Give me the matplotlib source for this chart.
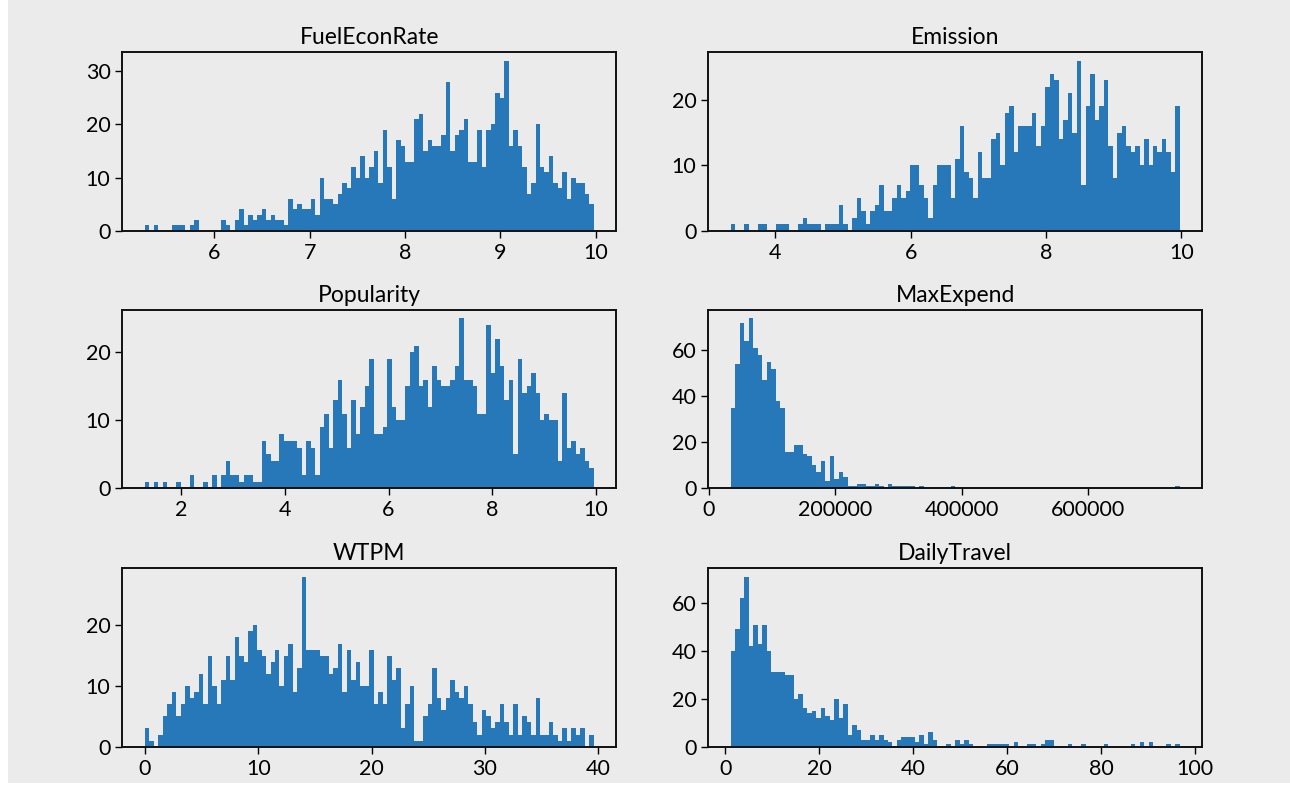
import numpy as np
import matplotlib
matplotlib.use("Agg")
import matplotlib.pyplot as plt
from matplotlib.patches import Rectangle
from matplotlib.ticker import MultipleLocator

# Bin counts per variable (100 equal-width bins between the data min and max)
fuel_range = (5.27, 9.98)
fuel_counts = [
    1, 0, 1, 0, 0, 0, 1, 1, 1, 0, 1, 2, 0, 0, 0, 0, 0, 2, 1, 0,
    2, 4, 1, 3, 2, 3, 4, 2, 3, 2, 2, 1, 6, 4, 5, 4, 4, 6, 3, 10,
    6, 6, 5, 7, 9, 8, 12, 10, 14, 10, 12, 15, 9, 19, 12, 6, 17, 16, 13, 13,
    21, 22, 15, 17, 16, 16, 18, 28, 15, 18, 19, 21, 13, 13, 19, 12, 19, 20, 26, 25,
    32, 16, 19, 16, 12, 7, 9, 20, 12, 11, 14, 9, 8, 11, 6, 10, 9, 9, 7, 5,
]

emission_range = (3.34, 9.98)
emission_counts = [
    1, 0, 0, 1, 0, 0, 1, 1, 0, 0, 1, 1, 1, 0, 0, 1, 2, 1, 1, 1,
    0, 1, 1, 1, 4, 1, 0, 2, 5, 3, 1, 3, 4, 7, 3, 3, 5, 7, 5, 6,
    10, 10, 7, 5, 2, 7, 10, 10, 10, 5, 11, 16, 9, 8, 5, 12, 8, 8, 14, 15,
    10, 18, 19, 12, 16, 16, 16, 18, 13, 16, 22, 24, 23, 14, 17, 21, 15, 26, 7, 19,
    24, 17, 19, 23, 13, 8, 15, 16, 13, 12, 13, 10, 14, 10, 13, 12, 14, 12, 9, 19,
]

popularity_range = (1.30, 9.96)
popularity_counts = [
    1, 0, 1, 0, 1, 0, 0, 1, 0, 0, 2, 0, 0, 1, 0, 2, 0, 2, 4, 2,
    2, 1, 2, 2, 1, 1, 7, 5, 4, 4, 8, 7, 7, 7, 6, 2, 7, 6, 2, 9,
    11, 6, 13, 16, 11, 6, 13, 8, 12, 15, 19, 8, 8, 9, 19, 12, 10, 10, 15, 20,
    21, 15, 16, 12, 18, 16, 15, 15, 16, 18, 25, 16, 16, 15, 11, 11, 24, 17, 22, 18,
    13, 16, 5, 19, 14, 15, 17, 14, 10, 11, 10, 10, 4, 14, 6, 7, 5, 6, 4, 3,
]

maxexpend_range = (35000, 745000)
maxexpend_counts = [
    35, 54, 72, 64, 74, 61, 58, 47, 55, 52, 38, 35, 16, 16, 19, 19, 15, 14, 10, 7,
    12, 3, 14, 4, 7, 5, 1, 1, 2, 2, 1, 1, 2, 1, 0, 2, 1, 1, 1, 1,
    1, 0, 1, 0, 0, 0, 0, 0, 0, 1, 0, 0, 0, 0, 0, 0, 0, 0, 0, 0,
    0, 0, 0, 0, 0, 0, 0, 0, 0, 0, 0, 0, 0, 0, 0, 0, 0, 0, 0, 0,
    0, 0, 0, 0, 0, 0, 0, 0, 0, 0, 0, 0, 0, 0, 0, 0, 0, 0, 0, 1,
]

wtpm_range = (0.0, 39.6)
wtpm_counts = [
    3, 1, 0, 2, 5, 7, 9, 5, 7, 10, 8, 9, 12, 7, 15, 10, 7, 11, 15, 11,
    18, 15, 14, 19, 20, 16, 15, 12, 14, 16, 10, 15, 17, 9, 13, 28, 16, 16, 16, 15,
    15, 12, 13, 17, 9, 16, 11, 14, 10, 10, 16, 7, 9, 7, 15, 11, 13, 3, 7, 10,
    1, 1, 5, 7, 13, 8, 6, 8, 11, 9, 8, 10, 7, 4, 2, 6, 5, 3, 4, 7,
    4, 2, 7, 2, 5, 4, 2, 8, 2, 2, 4, 2, 1, 3, 1, 3, 2, 3, 0, 2,
]

daily_range = (1.2, 96.8)
daily_counts = [
    40, 49, 62, 71, 42, 51, 43, 51, 40, 31, 31, 31, 30, 30, 20, 22, 16, 14, 15, 12,
    16, 13, 11, 20, 12, 18, 5, 9, 7, 3, 3, 5, 3, 5, 3, 2, 0, 3, 4, 4,
    4, 2, 5, 1, 6, 3, 0, 0, 1, 0, 3, 1, 3, 1, 0, 0, 0, 1, 1, 1,
    1, 1, 0, 2, 0, 0, 1, 1, 0, 1, 3, 3, 0, 0, 0, 1, 0, 0, 1, 0,
    0, 0, 0, 1, 0, 0, 0, 0, 0, 1, 0, 2, 0, 2, 0, 0, 0, 1, 0, 1,
]

titles = ["FuelEconRate", "Emission", "Popularity", "MaxExpend", "WTPM", "DailyTravel"]
ranges = [fuel_range, emission_range, popularity_range, maxexpend_range, wtpm_range, daily_range]
counts = [fuel_counts, emission_counts, popularity_counts, maxexpend_counts, wtpm_counts, daily_counts]
# x tick spacing for each panel
x_steps = [1, 2, 2, 200000, 10, 20]

BG = "#ebebeb"
BAR = "#2678b8"

plt.rcParams["font.family"] = ["Lato", "DejaVu Sans"]


def draw_hist(ax, title, rng, cnt, step):
    cnt = np.asarray(cnt, dtype=float)
    edges = np.linspace(rng[0], rng[1], len(cnt) + 1)
    centers = (edges[:-1] + edges[1:]) / 2
    ax.hist(centers, bins=edges, weights=cnt, color=BAR)
    ax.set_title(title, fontsize=16.5)
    ax.set_facecolor(BG)
    ax.xaxis.set_major_locator(MultipleLocator(step))
    for sp in ax.spines.values():
        sp.set_linewidth(1.4)
        sp.set_color("#111111")
    ax.tick_params(labelsize=15.5, width=1.0, length=5)


def main():
    fig = plt.figure(figsize=(12.9, 7.89), dpi=100, facecolor="white")
    # grey panel behind the subplots, leaving a thin white strip left and bottom
    fig.patches.append(Rectangle((8 / 1290, 6 / 789), 1, 1, transform=fig.transFigure,
                                 facecolor=BG, edgecolor="none", zorder=-1))

    lefts = [0.0948, 0.5491]
    bottoms = [0.7076, 0.3811, 0.0536]
    width = 0.383
    height = 0.2262

    for i, (title, rng, cnt, step) in enumerate(zip(titles, ranges, counts, x_steps)):
        row, col = divmod(i, 2)
        ax = fig.add_axes([lefts[col], bottoms[row], width, height])
        draw_hist(ax, title, rng, cnt, step)

    fig.savefig("out.png", dpi=100)
    plt.close(fig)


if __name__ == "__main__":
    main()
